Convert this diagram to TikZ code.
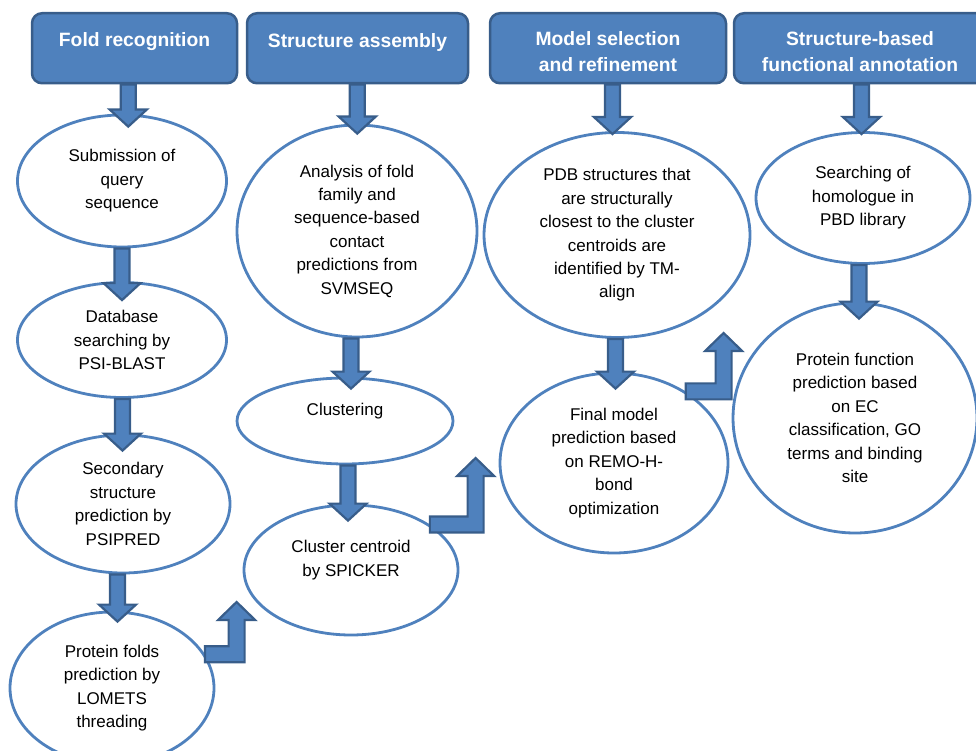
\documentclass[tikz,border=0pt]{standalone}
\usepackage{fontspec}
\setmainfont{Liberation Sans}
\usetikzlibrary{calc,shapes.geometric}
\definecolor{boxblue}{RGB}{79,129,189}
\definecolor{edgeblue}{RGB}{56,93,138}

% block arrow straight down, #1 = how far the tip goes into the target
\newcommand\blockdown[3][15pt]{%
  \draw[blk] let \p1=(#2), \p2=(#3), \n1={(\x1+\x2)/2} in
    (\n1-7.5pt,\y1) -- (\n1+7.5pt,\y1) -- (\n1+7.5pt,\y2-#1+17pt) -- (\n1+18.5pt,\y2-#1+17pt)
    -- (\n1,\y2-#1) -- (\n1-18.5pt,\y2-#1+17pt) -- (\n1-7.5pt,\y2-#1+17pt) -- cycle;}
% bent block arrow: right from #1, then up to #2
\newcommand\blockbent[2]{%
  \draw[blk] let \p1=(#1), \p2=(#2) in
    (\x1,\y1+8pt) -- (\x2-8pt,\y1+8pt) -- (\x2-8pt,\y2-18pt) -- (\x2-18.5pt,\y2-18pt) -- (\x2,\y2)
    -- (\x2+18.5pt,\y2-18pt) -- (\x2+8pt,\y2-18pt) -- (\x2+8pt,\y1-8pt) -- (\x1,\y1-8pt) -- cycle;}

\begin{document}
\begin{tikzpicture}[x=1pt, y=-1pt,
  hdr/.style={draw=edgeblue, fill=boxblue, line width=2.5pt, rounded corners=10pt, text=white,
    font=\bfseries\fontsize{19.3}{26}\selectfont, align=center, minimum height=70pt, anchor=north, inner sep=0pt},
  proc/.style={ellipse, draw=boxblue, line width=2.8pt, fill=white, align=center, inner sep=0pt,
    font=\fontsize{17}{23.4}\selectfont},
  blk/.style={draw=edgeblue, fill=boxblue, line width=2.2pt, line join=miter}]
\useasboundingbox (0,0) rectangle (976,751);

% column headers
\node[hdr, minimum width=205pt] (hfold) at (134.5,12) {Fold recognition\rule[-18pt]{0pt}{0pt}};
\node[hdr, minimum width=221pt] (hasm) at (357.5,12) {Structure assembly\rule[-16pt]{0pt}{0pt}};
\node[hdr, minimum width=236pt] (hmodel) at (608,12) {\rule{0pt}{20pt}Model selection\\and refinement};
\node[hdr, minimum width=252pt] (hfunc) at (860,12) {\rule{0pt}{20pt}Structure-based\\functional annotation};

% fold recognition
\node[proc, minimum width=209pt, minimum height=132pt] (query) at (122,181) {Submission of\\query\\sequence};
\node[proc, minimum width=209pt, minimum height=115pt] (blast) at (122,340) {Database\\searching by\\PSI-BLAST};
\node[proc, minimum width=214pt, minimum height=138pt] (psipred) at (123,504) {Secondary\\structure\\prediction by\\PSIPRED};
\node[proc, minimum width=204pt, minimum height=152pt] (lomets) at (112,688) {Protein folds\\prediction by\\LOMETS\\threading};

% structure assembly
\node[proc, minimum width=240pt, minimum height=212pt] (svmseq) at (357,231) {Analysis of fold\\family and\\sequence-based\\contact\\predictions from\\SVMSEQ};
\node[proc, minimum width=216pt, minimum height=86pt] (clust) at (345,421) {Clustering\\\mbox{}};
\node[proc, minimum width=214pt, minimum height=130pt] (spicker) at (351,570) {Cluster centroid\\by SPICKER\\\mbox{}};

% model selection
\node[proc, minimum width=266pt, minimum height=205pt] (tmalign) at (617,235) {PDB structures that\\are structurally\\closest to the cluster\\centroids are\\identified by TM-\\align};
\node[proc, minimum width=228pt, minimum height=180pt] (refine) at (614,463) {Final model\\prediction based\\on REMO-H-\\bond\\optimization};

% functional annotation
\node[proc, minimum width=214pt, minimum height=131pt] (homolog) at (863,198) {Searching of\\homologue in\\PBD library};
\node[proc, minimum width=244pt, minimum height=230pt] (func) at (855,418) {Protein function\\prediction based\\on EC\\classification, GO\\terms and binding\\site};

\coordinate (tip1) at ([xshift=-6pt,yshift=-32pt]spicker.west);
\coordinate (tip2) at ([xshift=-23pt,yshift=5pt]refine.west);
\coordinate (tip3) at ([xshift=-8pt,yshift=85pt]func.west);

\blockdown[13pt]{hfold.south}{query.north}
\blockdown[19pt]{query.south}{blast.north}
\blockdown[17pt]{blast.south}{psipred.north}
\blockdown[11pt]{psipred.south}{lomets.north}
\blockdown[10pt]{hasm.south}{svmseq.north}
\blockdown[12pt]{svmseq.south}{clust.north}
\blockdown[17pt]{clust.south}{spicker.north}
\blockdown[3pt]{hmodel.south}{tmalign.north}
\blockdown[17pt]{tmalign.south}{refine.north}
\blockdown[3pt]{hfunc.south}{homolog.north}
\blockdown[17pt]{homolog.south}{func.north}

\blockbent{lomets.20}{tip1}
\blockbent{spicker.30}{tip2}
\blockbent{refine.45}{tip3}
\end{tikzpicture}
\end{document}
